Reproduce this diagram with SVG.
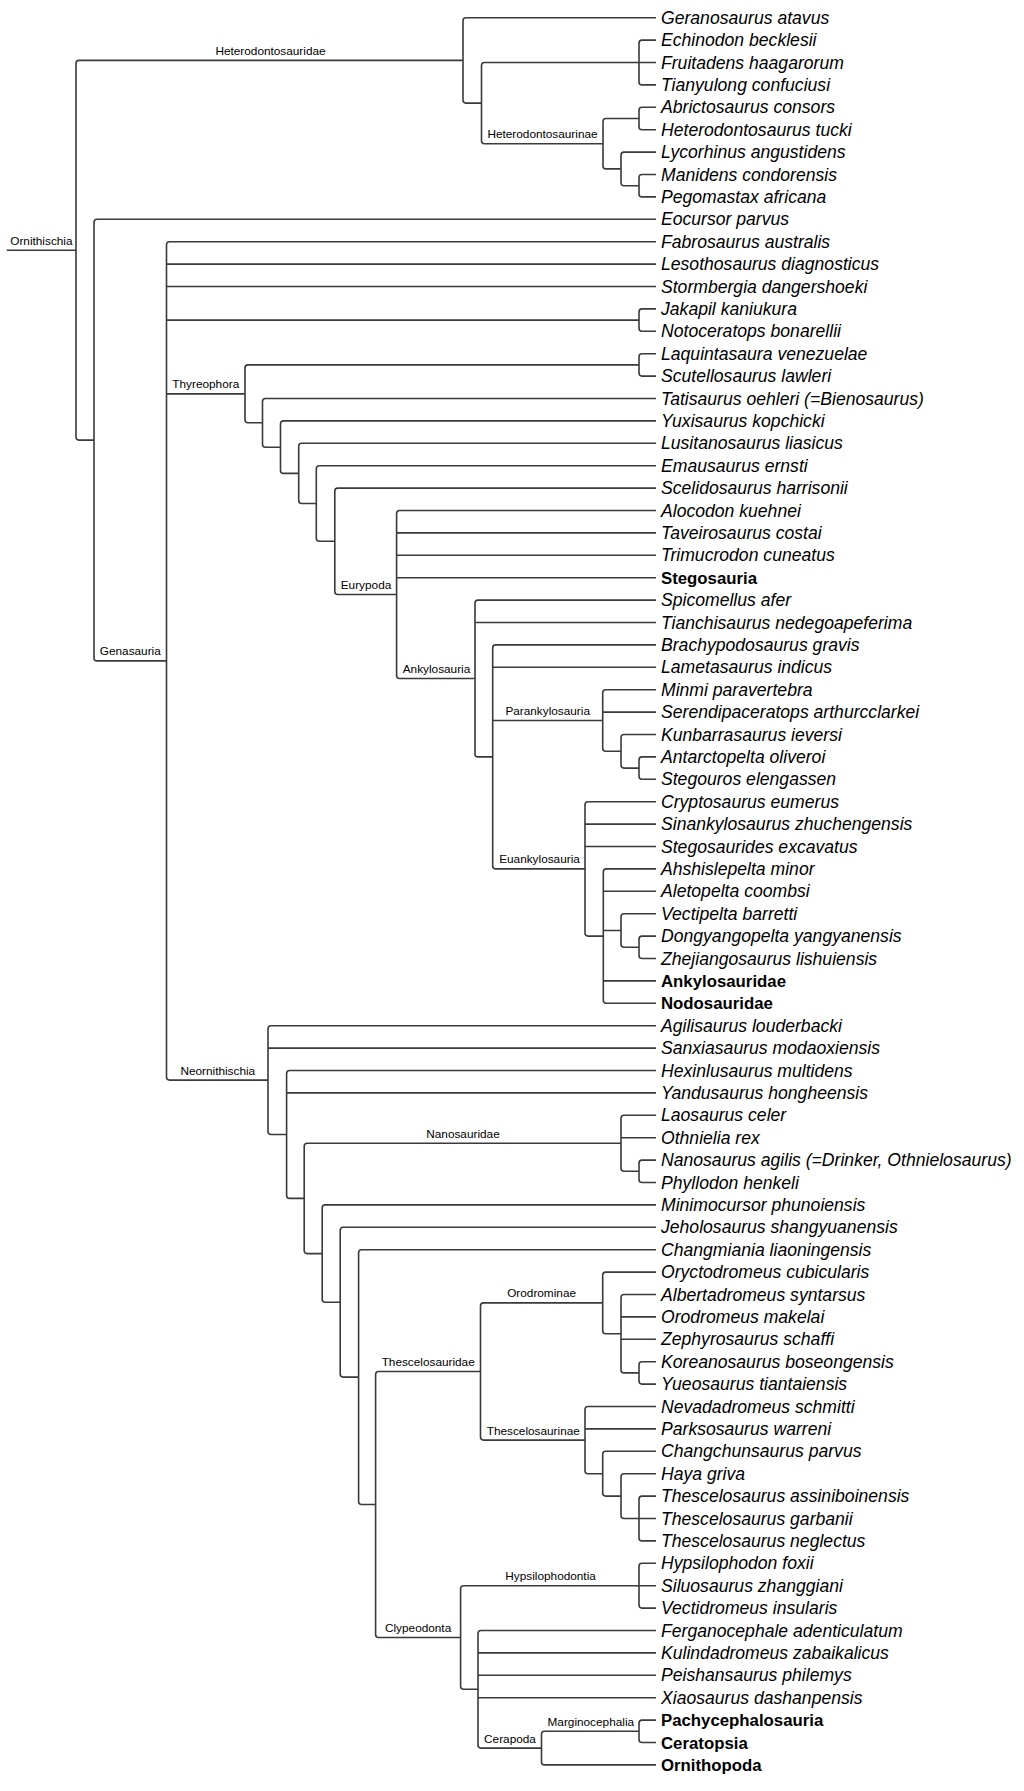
<svg xmlns="http://www.w3.org/2000/svg" width="1024" height="1791" viewBox="0 0 1024 1791">
<style>
.br{fill:none;stroke:#3a3a3a;stroke-width:1.6;stroke-linejoin:round}
.lf{font-family:"Liberation Sans",Arial,sans-serif;font-size:17.6px;font-style:italic;fill:#000}
.bd{font-family:"Liberation Sans",Arial,sans-serif;font-size:16.8px;font-weight:bold;fill:#000}
.cl{font-family:"Liberation Sans",Arial,sans-serif;font-size:11.8px;fill:#000;text-anchor:middle}
</style>
<rect width="1024" height="1791" fill="#fff"/>
<g id="connectors" class="br">
<path d="M6.7,250.3H76"/>
<path d="M463,60.4H79Q76,60.4 76,63.4V437.1Q76,440.1 79,440.1H94"/>
<path d="M656,17.7H466Q463,17.7 463,20.7V100.1Q463,103.1 466,103.1H481.5"/>
<path d="M639,62.5H484.5Q481.5,62.5 481.5,65.5V140.7Q481.5,143.7 484.5,143.7H603"/>
<path d="M656,40.1H642Q639,40.1 639,43.1V81.9Q639,84.9 642,84.9H656M639,62.5H656"/>
<path d="M639,118.5H606Q603,118.5 603,121.5V165.9Q603,168.9 606,168.9H621"/>
<path d="M656,107.3H642Q639,107.3 639,110.3V126.7Q639,129.7 642,129.7H656"/>
<path d="M656,152.1H624Q621,152.1 621,155.1V182.7Q621,185.7 624,185.7H639"/>
<path d="M656,174.5H642Q639,174.5 639,177.5V193.9Q639,196.9 642,196.9H656"/>
<path d="M656,219.3H97Q94,219.3 94,222.3V657.9Q94,660.9 97,660.9H166.5"/>
<path d="M656,241.7H169.5Q166.5,241.7 166.5,244.7V1077.1Q166.5,1080.1 169.5,1080.1H268M166.5,264.1H656M166.5,286.5H656M166.5,320.1H639M166.5,393.9H245"/>
<path d="M656,308.9H642Q639,308.9 639,311.9V328.3Q639,331.3 642,331.3H656"/>
<path d="M639,364.9H248Q245,364.9 245,367.9V419.8Q245,422.8 248,422.8H262.5"/>
<path d="M656,353.7H642Q639,353.7 639,356.7V373.1Q639,376.1 642,376.1H656"/>
<path d="M656,398.5H265.5Q262.5,398.5 262.5,401.5V444.2Q262.5,447.2 265.5,447.2H280.5"/>
<path d="M656,420.9H283.5Q280.5,420.9 280.5,423.9V470.4Q280.5,473.4 283.5,473.4H298.7"/>
<path d="M656,443.3H301.7Q298.7,443.3 298.7,446.3V500.5Q298.7,503.5 301.7,503.5H316.3"/>
<path d="M656,465.7H319.3Q316.3,465.7 316.3,468.7V538.3Q316.3,541.3 319.3,541.3H334.8"/>
<path d="M656,488.1H337.8Q334.8,488.1 334.8,491.1V591.5Q334.8,594.5 337.8,594.5H396.6"/>
<path d="M656,510.5H399.6Q396.6,510.5 396.6,513.5V675.5Q396.6,678.5 399.6,678.5H475M396.6,532.9H656M396.6,555.3H656M396.6,577.7H656"/>
<path d="M656,600.1H478Q475,600.1 475,603.1V753.9Q475,756.9 478,756.9H492.7M475,622.5H656"/>
<path d="M656,644.9H495.7Q492.7,644.9 492.7,647.9V865.9Q492.7,868.9 495.7,868.9H585M492.7,667.3H656M492.7,720.5H602.7"/>
<path d="M656,689.7H605.7Q602.7,689.7 602.7,692.7V748.3Q602.7,751.3 605.7,751.3H621M602.7,712.1H656"/>
<path d="M656,734.5H624Q621,734.5 621,737.5V765.1Q621,768.1 624,768.1H639"/>
<path d="M656,756.9H642Q639,756.9 639,759.9V776.3Q639,779.3 642,779.3H656"/>
<path d="M656,801.7H588Q585,801.7 585,804.7V933.1Q585,936.1 588,936.1H603.3M585,824.1H656M585,846.5H656"/>
<path d="M656,868.9H606.3Q603.3,868.9 603.3,871.9V1000.3Q603.3,1003.3 606.3,1003.3H656M603.3,891.3H656M603.3,930.5H621M603.3,980.9H656"/>
<path d="M656,913.7H624Q621,913.7 621,916.7V944.3Q621,947.3 624,947.3H639"/>
<path d="M656,936.1H642Q639,936.1 639,939.1V955.5Q639,958.5 642,958.5H656"/>
<path d="M656,1025.7H271Q268,1025.7 268,1028.7V1131.5Q268,1134.5 271,1134.5H286.6M268,1048.1H656"/>
<path d="M656,1070.5H289.6Q286.6,1070.5 286.6,1073.5V1195.4Q286.6,1198.4 289.6,1198.4H304.2M286.6,1092.9H656"/>
<path d="M621,1143.3H307.2Q304.2,1143.3 304.2,1146.3V1250.6Q304.2,1253.6 307.2,1253.6H322.2"/>
<path d="M656,1115.3H624Q621,1115.3 621,1118.3V1168.3Q621,1171.3 624,1171.3H639M621,1137.7H656"/>
<path d="M656,1160.1H642Q639,1160.1 639,1163.1V1179.5Q639,1182.5 642,1182.5H656"/>
<path d="M656,1204.9H325.2Q322.2,1204.9 322.2,1207.9V1299.2Q322.2,1302.2 325.2,1302.2H340.2"/>
<path d="M656,1227.3H343.2Q340.2,1227.3 340.2,1230.3V1374.1Q340.2,1377.1 343.2,1377.1H358.6"/>
<path d="M656,1249.7H361.6Q358.6,1249.7 358.6,1252.7V1501.5Q358.6,1504.5 361.6,1504.5H375.6"/>
<path d="M480.5,1371.5H378.6Q375.6,1371.5 375.6,1374.5V1634.5Q375.6,1637.5 378.6,1637.5H460.6"/>
<path d="M602.7,1302.9H483.5Q480.5,1302.9 480.5,1305.9V1437.1Q480.5,1440.1 483.5,1440.1H585"/>
<path d="M656,1272.1H605.7Q602.7,1272.1 602.7,1275.1V1330.7Q602.7,1333.7 605.7,1333.7H621"/>
<path d="M656,1294.5H624Q621,1294.5 621,1297.5V1369.9Q621,1372.9 624,1372.9H639M621,1316.9H656M621,1339.3H656"/>
<path d="M656,1361.7H642Q639,1361.7 639,1364.7V1381.1Q639,1384.1 642,1384.1H656"/>
<path d="M656,1406.5H588Q585,1406.5 585,1409.5V1470.7Q585,1473.7 588,1473.7H602.7M585,1428.9H656"/>
<path d="M656,1451.3H605.7Q602.7,1451.3 602.7,1454.3V1493.1Q602.7,1496.1 605.7,1496.1H621"/>
<path d="M656,1473.7H624Q621,1473.7 621,1476.7V1515.5Q621,1518.5 624,1518.5H639"/>
<path d="M656,1496.1H642Q639,1496.1 639,1499.1V1537.9Q639,1540.9 642,1540.9H656M639,1518.5H656"/>
<path d="M639,1585.7H463.6Q460.6,1585.7 460.6,1588.7V1686.3Q460.6,1689.3 463.6,1689.3H478"/>
<path d="M656,1563.3H642Q639,1563.3 639,1566.3V1605.1Q639,1608.1 642,1608.1H656M639,1585.7H656"/>
<path d="M656,1630.5H481Q478,1630.5 478,1633.5V1745.1Q478,1748.1 481,1748.1H541.5M478,1652.9H656M478,1675.3H656M478,1697.7H656"/>
<path d="M639,1731.3H544.5Q541.5,1731.3 541.5,1734.3V1761.9Q541.5,1764.9 544.5,1764.9H656"/>
<path d="M656,1720.1H642Q639,1720.1 639,1723.1V1739.5Q639,1742.5 642,1742.5H656"/>
</g>
<g id="clade-labels">
<g id="n-ornithischia"><text class="cl" x="41.4" y="244.8">Ornithischia</text></g>
<g id="n-heterodontosauridae"><text class="cl" x="270.5" y="54.9">Heterodontosauridae</text></g>
<g id="n-heterodontosaurinae"><text class="cl" x="542.5" y="138.2">Heterodontosaurinae</text></g>
<g id="n-genasauria"><text class="cl" x="130.3" y="655.4">Genasauria</text></g>
<g id="n-thyreophora"><text class="cl" x="205.8" y="388.4">Thyreophora</text></g>
<g id="n-eurypoda"><text class="cl" x="366" y="589">Eurypoda</text></g>
<g id="n-ankylosauria"><text class="cl" x="436.5" y="673">Ankylosauria</text></g>
<g id="n-parankylosauria"><text class="cl" x="547.7" y="715">Parankylosauria</text></g>
<g id="n-euankylosauria"><text class="cl" x="539.5" y="863.4">Euankylosauria</text></g>
<g id="n-neornithischia"><text class="cl" x="217.8" y="1074.6">Neornithischia</text></g>
<g id="n-nanosauridae"><text class="cl" x="463" y="1137.8">Nanosauridae</text></g>
<g id="n-thescelosauridae"><text class="cl" x="428.2" y="1366">Thescelosauridae</text></g>
<g id="n-orodrominae"><text class="cl" x="541.6" y="1297.4">Orodrominae</text></g>
<g id="n-thescelosaurinae"><text class="cl" x="533.3" y="1434.6">Thescelosaurinae</text></g>
<g id="n-clypeodonta"><text class="cl" x="418.1" y="1632">Clypeodonta</text></g>
<g id="n-hypsilophodontia"><text class="cl" x="550.6" y="1580.2">Hypsilophodontia</text></g>
<g id="n-cerapoda"><text class="cl" x="510" y="1742.6">Cerapoda</text></g>
<g id="n-marginocephalia"><text class="cl" x="590.8" y="1725.8">Marginocephalia</text></g>
</g>
<g id="leaves">
<g id="t01"><text class="lf" x="661" y="23.7">Geranosaurus atavus</text></g>
<g id="t02"><text class="lf" x="661" y="46.1">Echinodon becklesii</text></g>
<g id="t03"><text class="lf" x="661" y="68.5">Fruitadens haagarorum</text></g>
<g id="t04"><text class="lf" x="661" y="90.9">Tianyulong confuciusi</text></g>
<g id="t05"><text class="lf" x="661" y="113.3">Abrictosaurus consors</text></g>
<g id="t06"><text class="lf" x="661" y="135.7">Heterodontosaurus tucki</text></g>
<g id="t07"><text class="lf" x="661" y="158.1">Lycorhinus angustidens</text></g>
<g id="t08"><text class="lf" x="661" y="180.5">Manidens condorensis</text></g>
<g id="t09"><text class="lf" x="661" y="202.9">Pegomastax africana</text></g>
<g id="t10"><text class="lf" x="661" y="225.3">Eocursor parvus</text></g>
<g id="t11"><text class="lf" x="661" y="247.7">Fabrosaurus australis</text></g>
<g id="t12"><text class="lf" x="661" y="270.1">Lesothosaurus diagnosticus</text></g>
<g id="t13"><text class="lf" x="661" y="292.5">Stormbergia dangershoeki</text></g>
<g id="t14"><text class="lf" x="661" y="314.9">Jakapil kaniukura</text></g>
<g id="t15"><text class="lf" x="661" y="337.3">Notoceratops bonarellii</text></g>
<g id="t16"><text class="lf" x="661" y="359.7">Laquintasaura venezuelae</text></g>
<g id="t17"><text class="lf" x="661" y="382.1">Scutellosaurus lawleri</text></g>
<g id="t18"><text class="lf" x="661" y="404.5">Tatisaurus oehleri (=Bienosaurus)</text></g>
<g id="t19"><text class="lf" x="661" y="426.9">Yuxisaurus kopchicki</text></g>
<g id="t20"><text class="lf" x="661" y="449.3">Lusitanosaurus liasicus</text></g>
<g id="t21"><text class="lf" x="661" y="471.7">Emausaurus ernsti</text></g>
<g id="t22"><text class="lf" x="661" y="494.1">Scelidosaurus harrisonii</text></g>
<g id="t23"><text class="lf" x="661" y="516.5">Alocodon kuehnei</text></g>
<g id="t24"><text class="lf" x="661" y="538.9">Taveirosaurus costai</text></g>
<g id="t25"><text class="lf" x="661" y="561.3">Trimucrodon cuneatus</text></g>
<g id="t26"><text class="bd" x="661" y="583.7">Stegosauria</text></g>
<g id="t27"><text class="lf" x="661" y="606.1">Spicomellus afer</text></g>
<g id="t28"><text class="lf" x="661" y="628.5">Tianchisaurus nedegoapeferima</text></g>
<g id="t29"><text class="lf" x="661" y="650.9">Brachypodosaurus gravis</text></g>
<g id="t30"><text class="lf" x="661" y="673.3">Lametasaurus indicus</text></g>
<g id="t31"><text class="lf" x="661" y="695.7">Minmi paravertebra</text></g>
<g id="t32"><text class="lf" x="661" y="718.1">Serendipaceratops arthurcclarkei</text></g>
<g id="t33"><text class="lf" x="661" y="740.5">Kunbarrasaurus ieversi</text></g>
<g id="t34"><text class="lf" x="661" y="762.9">Antarctopelta oliveroi</text></g>
<g id="t35"><text class="lf" x="661" y="785.3">Stegouros elengassen</text></g>
<g id="t36"><text class="lf" x="661" y="807.7">Cryptosaurus eumerus</text></g>
<g id="t37"><text class="lf" x="661" y="830.1">Sinankylosaurus zhuchengensis</text></g>
<g id="t38"><text class="lf" x="661" y="852.5">Stegosaurides excavatus</text></g>
<g id="t39"><text class="lf" x="661" y="874.9">Ahshislepelta minor</text></g>
<g id="t40"><text class="lf" x="661" y="897.3">Aletopelta coombsi</text></g>
<g id="t41"><text class="lf" x="661" y="919.7">Vectipelta barretti</text></g>
<g id="t42"><text class="lf" x="661" y="942.1">Dongyangopelta yangyanensis</text></g>
<g id="t43"><text class="lf" x="661" y="964.5">Zhejiangosaurus lishuiensis</text></g>
<g id="t44"><text class="bd" x="661" y="986.9">Ankylosauridae</text></g>
<g id="t45"><text class="bd" x="661" y="1009.3">Nodosauridae</text></g>
<g id="t46"><text class="lf" x="661" y="1031.7">Agilisaurus louderbacki</text></g>
<g id="t47"><text class="lf" x="661" y="1054.1">Sanxiasaurus modaoxiensis</text></g>
<g id="t48"><text class="lf" x="661" y="1076.5">Hexinlusaurus multidens</text></g>
<g id="t49"><text class="lf" x="661" y="1098.9">Yandusaurus hongheensis</text></g>
<g id="t50"><text class="lf" x="661" y="1121.3">Laosaurus celer</text></g>
<g id="t51"><text class="lf" x="661" y="1143.7">Othnielia rex</text></g>
<g id="t52"><text class="lf" x="661" y="1166.1">Nanosaurus agilis (=Drinker, Othnielosaurus)</text></g>
<g id="t53"><text class="lf" x="661" y="1188.5">Phyllodon henkeli</text></g>
<g id="t54"><text class="lf" x="661" y="1210.9">Minimocursor phunoiensis</text></g>
<g id="t55"><text class="lf" x="661" y="1233.3">Jeholosaurus shangyuanensis</text></g>
<g id="t56"><text class="lf" x="661" y="1255.7">Changmiania liaoningensis</text></g>
<g id="t57"><text class="lf" x="661" y="1278.1">Oryctodromeus cubicularis</text></g>
<g id="t58"><text class="lf" x="661" y="1300.5">Albertadromeus syntarsus</text></g>
<g id="t59"><text class="lf" x="661" y="1322.9">Orodromeus makelai</text></g>
<g id="t60"><text class="lf" x="661" y="1345.3">Zephyrosaurus schaffi</text></g>
<g id="t61"><text class="lf" x="661" y="1367.7">Koreanosaurus boseongensis</text></g>
<g id="t62"><text class="lf" x="661" y="1390.1">Yueosaurus tiantaiensis</text></g>
<g id="t63"><text class="lf" x="661" y="1412.5">Nevadadromeus schmitti</text></g>
<g id="t64"><text class="lf" x="661" y="1434.9">Parksosaurus warreni</text></g>
<g id="t65"><text class="lf" x="661" y="1457.3">Changchunsaurus parvus</text></g>
<g id="t66"><text class="lf" x="661" y="1479.7">Haya griva</text></g>
<g id="t67"><text class="lf" x="661" y="1502.1">Thescelosaurus assiniboinensis</text></g>
<g id="t68"><text class="lf" x="661" y="1524.5">Thescelosaurus garbanii</text></g>
<g id="t69"><text class="lf" x="661" y="1546.9">Thescelosaurus neglectus</text></g>
<g id="t70"><text class="lf" x="661" y="1569.3">Hypsilophodon foxii</text></g>
<g id="t71"><text class="lf" x="661" y="1591.7">Siluosaurus zhanggiani</text></g>
<g id="t72"><text class="lf" x="661" y="1614.1">Vectidromeus insularis</text></g>
<g id="t73"><text class="lf" x="661" y="1636.5">Ferganocephale adenticulatum</text></g>
<g id="t74"><text class="lf" x="661" y="1658.9">Kulindadromeus zabaikalicus</text></g>
<g id="t75"><text class="lf" x="661" y="1681.3">Peishansaurus philemys</text></g>
<g id="t76"><text class="lf" x="661" y="1703.7">Xiaosaurus dashanpensis</text></g>
<g id="t77"><text class="bd" x="661" y="1726.1">Pachycephalosauria</text></g>
<g id="t78"><text class="bd" x="661" y="1748.5">Ceratopsia</text></g>
<g id="t79"><text class="bd" x="661" y="1770.9">Ornithopoda</text></g>
</g>
</svg>
